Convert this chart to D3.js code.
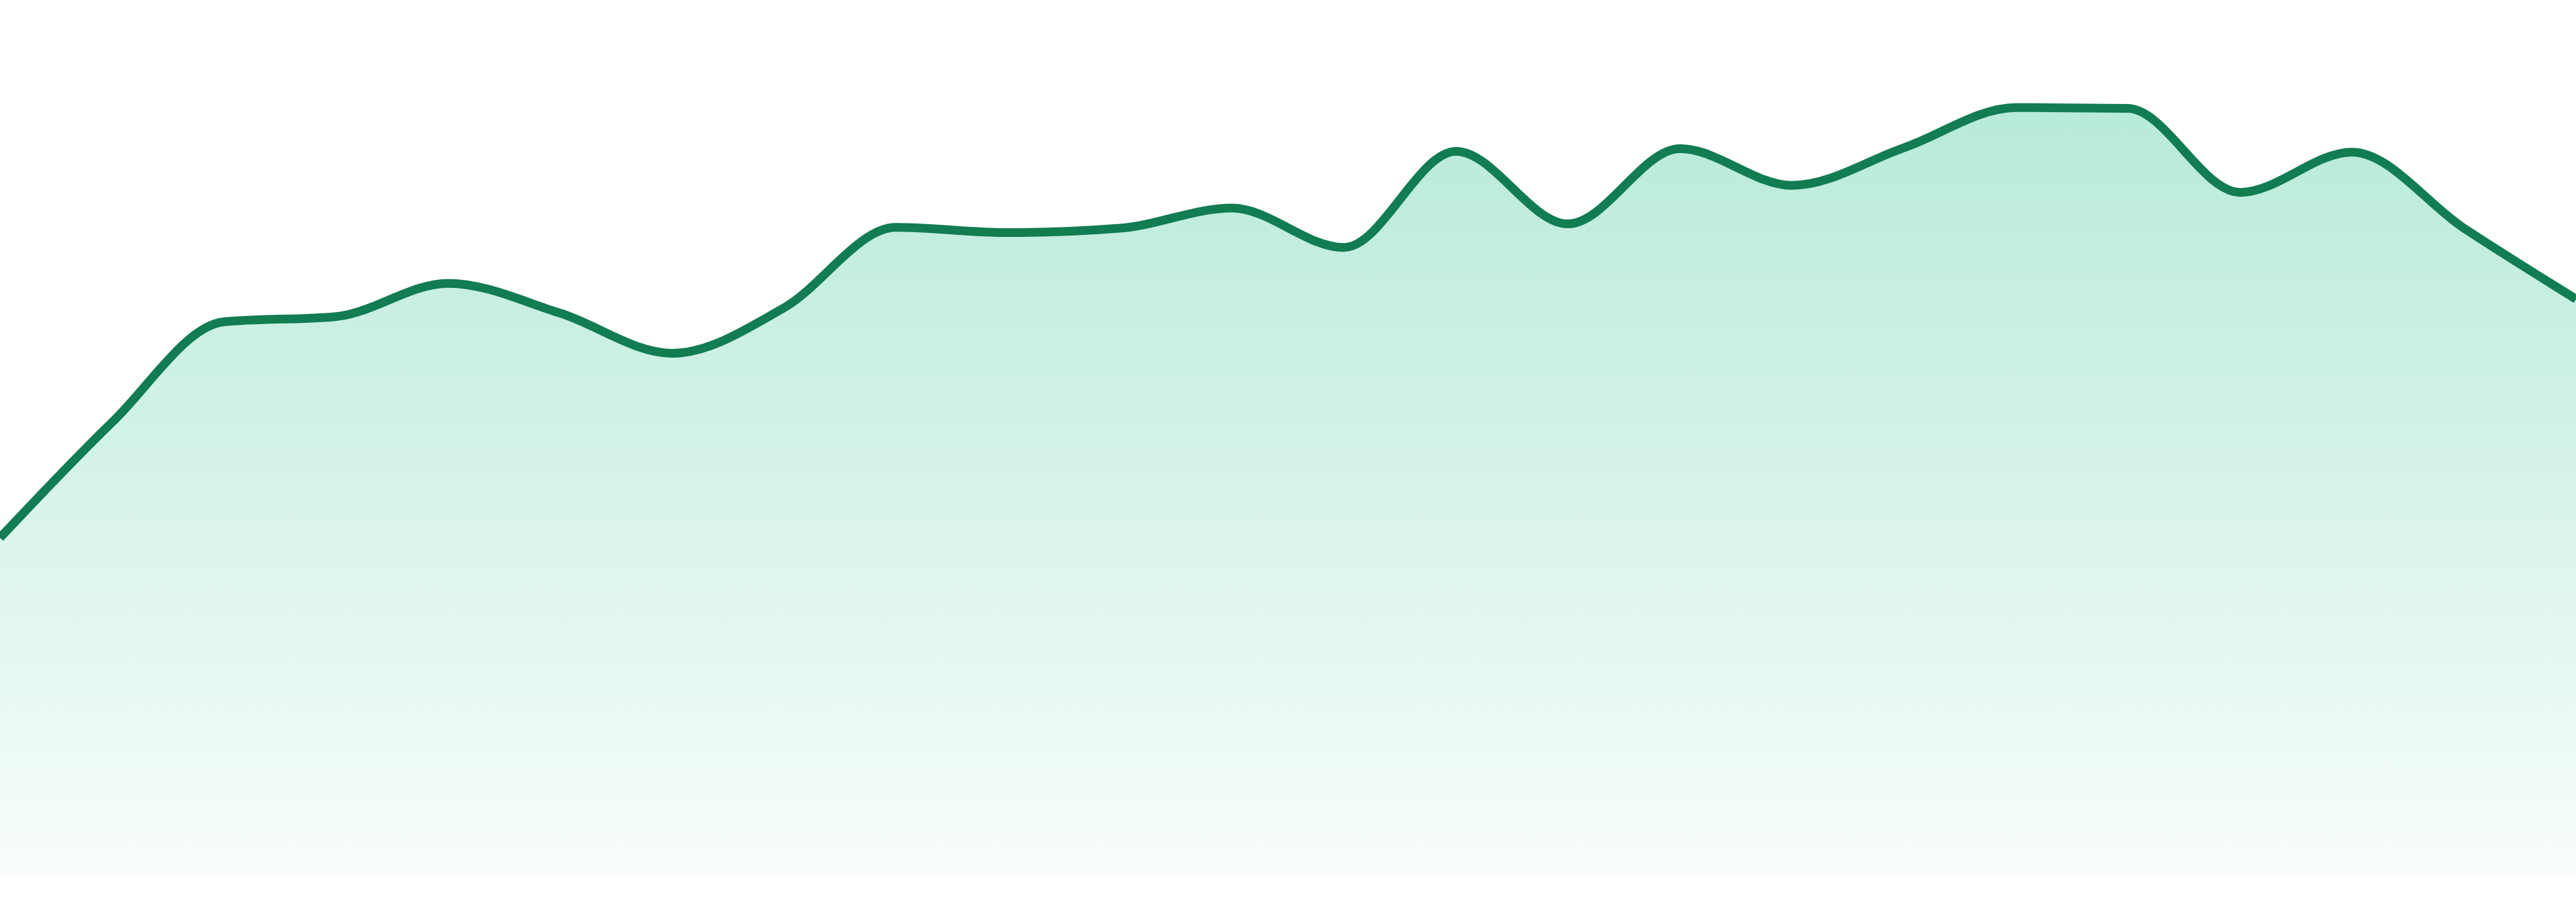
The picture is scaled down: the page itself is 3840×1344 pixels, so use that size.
<!DOCTYPE html>
<html>
<head>
<meta charset="utf-8">
<script src="https://cdn.jsdelivr.net/npm/d3@7"></script>
<style>
  html, body { margin: 0; padding: 0; background: #ffffff; overflow: hidden; }
  svg { display: block; }
</style>
</head>
<body>
<svg id="chart"></svg>
<script>
// one value per step (0-100 scale)
const steps = d3.range(24);
const values = [
  38.5, 51.7, 63.2, 63.8, 67.6, 64.2, 59.6, 64.8,
  74.0, 73.4, 73.9, 76.2, 71.7, 82.7, 74.4, 83.0,
  78.8, 83.1, 87.7, 87.6, 78.0, 82.6, 73.9, 65.8
];

const width = 3840;
const height = 1344;
const margin = { top: 0, right: 0, bottom: 41, left: 0 };

const data = steps.map((s, i) => ({ step: s, value: values[i] }));

const svg = d3.select("#chart")
  .attr("width", width)
  .attr("height", height);

const x = d3.scaleLinear()
  .domain(d3.extent(steps))
  .range([margin.left, width - margin.right]);

const y = d3.scaleLinear()
  .domain([0, 100])
  .range([height - margin.bottom, margin.top]);

//gradient for the area
const grad = svg.append("defs")
  .append("linearGradient")
  .attr("id", "areaFill")
  .attr("x1", 0).attr("y1", 0)
  .attr("x2", 0).attr("y2", 1);

grad.append("stop")
  .attr("offset", "0%")
  .attr("stop-color", "#10b981")
  .attr("stop-opacity", 0.3);

grad.append("stop")
  .attr("offset", "100%")
  .attr("stop-color", "#10b981")
  .attr("stop-opacity", 0.03);

const area = d3.area()
  .x((d) => x(d.step))
  .y0(y(0))
  .y1((d) => y(d.value))
  .curve(d3.curveMonotoneX);

const line = d3.line()
  .x((d) => x(d.step))
  .y((d) => y(d.value))
  .curve(d3.curveMonotoneX);

svg.append("path")
  .datum(data)
  .attr("fill", "url(#areaFill)")
  .attr("d", area);

svg.append("path")
  .datum(data)
  .attr("fill", "none")
  .attr("stroke", "#127c53")
  .attr("stroke-width", 13)
  .attr("stroke-linejoin", "round")
  .attr("d", line);
</script>
</body>
</html>
